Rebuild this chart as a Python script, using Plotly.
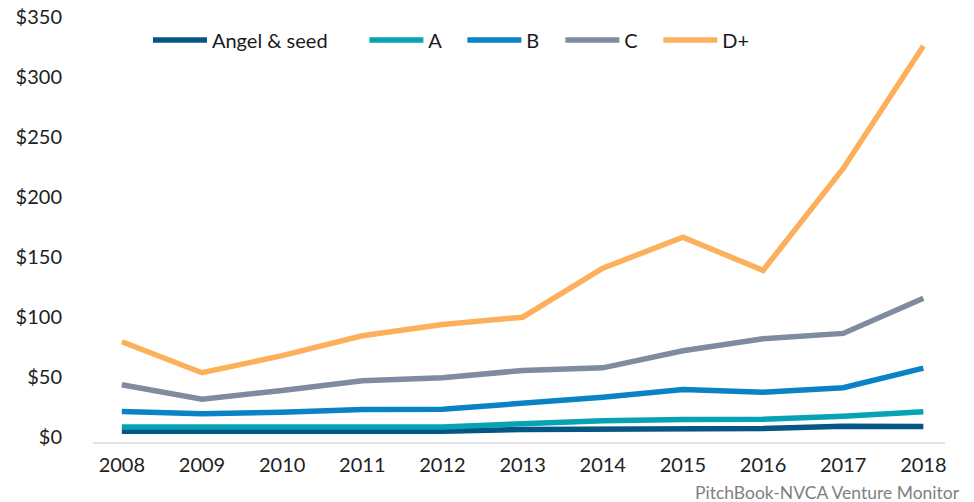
import plotly.graph_objects as go

years = [2008, 2009, 2010, 2011, 2012, 2013, 2014, 2015, 2016, 2017, 2018]
angel_seed = [9, 9, 9, 9, 9, 10.4, 11, 11, 11.3, 13.2, 13]
series_a = [12.6, 12.6, 12.6, 12.6, 12.6, 15.2, 17.7, 18.8, 19, 21.5, 25.2]
series_b = [25.4, 23.5, 24.8, 27, 27.3, 31.8, 37.3, 43.7, 41.5, 45.2, 61.5]
series_c = [47.7, 35.7, 43, 51, 53.5, 59.6, 61.8, 76, 86, 90.5, 119.8]
series_d = [83.5, 57.7, 72, 88.5, 97.9, 104, 144.8, 170.7, 143, 228, 330]

names = ["Angel & seed", "A", "B", "C", "D+"]
colors = ["#055585", "#07A3B5", "#0A82C6", "#7F8B9E", "#FDB05C"]
y_ticks = [0, 50, 100, 150, 200, 250, 300, 350]
source_note = "PitchBook-NVCA Venture Monitor"

FONT = "Lato"

fig = go.Figure()
for i, (name, vals, col) in enumerate(zip(names, [angel_seed, series_a, series_b, series_c, series_d], colors)):
    fig.add_trace(go.Scatter(
        x=years, y=vals, name=name, mode="lines",
        line=dict(color=col, width=5.5),
        legend="legend" if i == 0 else "legend2",
    ))

fig.update_layout(
    width=974, height=502,
    margin=dict(l=85, r=37, t=14, b=68, autoexpand=False),
    plot_bgcolor="white", paper_bgcolor="white",
    font=dict(family=FONT, size=20, color="#222222"),
    showlegend=True,
    legend=dict(orientation="h", x=0.0645, y=0.957, xanchor="left", yanchor="middle",
                font=dict(family=FONT, size=20, color="#1a1a1a"), itemwidth=54,
                bgcolor="rgba(0,0,0,0)"),
    legend2=dict(orientation="h", x=0.3185, y=0.957, xanchor="left", yanchor="middle",
                 font=dict(family=FONT, size=20, color="#1a1a1a"), itemwidth=54,
                 entrywidth=29, entrywidthmode="pixels",
                 bgcolor="rgba(0,0,0,0)"),
    xaxis=dict(range=[2008 - 0.36, 2018 + 0.27], tickmode="array", tickvals=years,
               ticktext=[str(y) for y in years], showgrid=False, zeroline=False,
               showline=True, linecolor="#E3E3E8", linewidth=2,
               ticks="", ticklabelstandoff=4,
               tickfont=dict(family=FONT, size=20, color="#222222")),
    yaxis=dict(range=[0, 350], tickmode="array", tickvals=y_ticks,
               ticktext=["$" + str(v) for v in y_ticks], showgrid=False, zeroline=False,
               showline=False, ticks="", ticklabelstandoff=30, ticklabelshift=-5,
               ticklabeloverflow="allow",
               tickfont=dict(family=FONT, size=20, color="#222222")),
    annotations=[dict(text=source_note, xref="paper", yref="paper", x=1.020, y=-0.12,
                      xanchor="right", yanchor="middle", showarrow=False,
                      font=dict(family=FONT, size=17.5, color="#7F7F7F"))],
)

fig.write_html("out.html")
